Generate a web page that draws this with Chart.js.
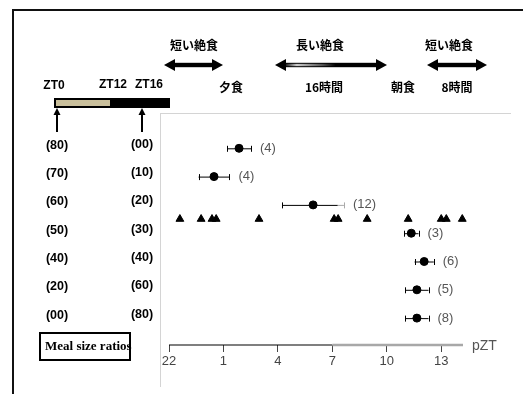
<!DOCTYPE html>
<html>
<head>
<meta charset="utf-8">
<script src="https://cdn.jsdelivr.net/npm/chart.js@4"></script>
<style>
  body { margin: 0; background: #fff; }
  #wrap { width: 523px; height: 394px; }
</style>
</head>
<body>
<div id="wrap"><canvas id="chart-1" width="523" height="394"></canvas></div>
<script>
const $ = (element) => document.querySelector(element)

// data (hours, 22 = ZT22, 25 = next day 1 ...)
const rowLabelsA = ['(80)', '(70)', '(60)', '(50)', '(40)', '(20)', '(00)']
const rowLabelsB = ['(00)', '(10)', '(20)', '(30)', '(40)', '(60)', '(80)']
const mealMeans = [25.86, 24.48, 29.94, 35.35, 36.06, 35.66, 35.66]
const mealErrors = [0.66, 0.85, 1.7, 0.4, 0.53, 0.64, 0.64]
const mealCounts = ['(4)', '(4)', '(12)', '(3)', '(6)', '(5)', '(8)']
const fastTimes = [22.6, 23.77, 24.37, 24.6, 26.96, 31.1, 31.32, 32.92, 35.18, 37.0, 37.28, 38.16]
const fastRow = 2.5
const tickValues = [22, 25, 28, 31, 34, 37]
const tickLabels = ['22', '1', '4', '7', '10', '13']

const sans = 'Arial, "Liberation Sans", sans-serif'
const jp = '"Noto Sans CJK JP", sans-serif'

const drawDoubleArrow = (ctx, x1, x2, y, shaft) => {
  const head = 11, half = 6
  ctx.fillStyle = '#000'
  ctx.fillRect(x1 + head - 1, y - 2.2, x2 - x1 - 2 * head + 2, 4.4)
  if (shaft) {
    const g = ctx.createLinearGradient(x1 + head, 0, x2 - head, 0)
    g.addColorStop(0, '#222')
    g.addColorStop(0.12, '#ccc')
    g.addColorStop(0.4, '#555')
    g.addColorStop(0.55, '#000')
    ctx.fillStyle = g
    ctx.fillRect(x1 + head, y - 1.2, x2 - x1 - 2 * head, 2.4)
  }
  ctx.fillStyle = '#000'
  ctx.beginPath()
  ctx.moveTo(x1, y); ctx.lineTo(x1 + head, y - half); ctx.lineTo(x1 + head, y + half); ctx.closePath()
  ctx.fill()
  ctx.beginPath()
  ctx.moveTo(x2, y); ctx.lineTo(x2 - head, y - half); ctx.lineTo(x2 - head, y + half); ctx.closePath()
  ctx.fill()
}

const drawUpArrow = (ctx, x, yTop, yBottom) => {
  ctx.fillStyle = '#000'
  ctx.fillRect(x - 1, yTop + 5, 2, yBottom - yTop - 5)
  ctx.beginPath()
  ctx.moveTo(x, yTop); ctx.lineTo(x - 3.5, yTop + 7); ctx.lineTo(x + 3.5, yTop + 7); ctx.closePath()
  ctx.fill()
}

const cap = (ctx, px, py) => {
  ctx.moveTo(Math.round(px) + 0.5, py - 2.5)
  ctx.lineTo(Math.round(px) + 0.5, py + 3.5)
}

const decorations = {
  id: 'decorations',
  beforeDraw(chart) {
    const ctx = chart.ctx
    ctx.save()
    ctx.fillStyle = '#fff'
    ctx.fillRect(0, 0, chart.width, chart.height)
    ctx.restore()
  },
  beforeDatasetsDraw(chart) {
    const ctx = chart.ctx
    const x = chart.scales.x, y = chart.scales.y
    ctx.save()
    ctx.lineWidth = 1
    mealMeans.forEach((m, i) => {
      const py = y.getPixelForValue(i)
      const lo = x.getPixelForValue(m - mealErrors[i])
      const hi = x.getPixelForValue(m + mealErrors[i])
      // the long bar fades to grey past the 7 tick, like the axis
      let split = x.getPixelForValue(31.3)
      if (split <= lo || split >= hi) split = hi
      ctx.strokeStyle = '#000'
      ctx.beginPath()
      ctx.moveTo(lo, py + 0.5); ctx.lineTo(split, py + 0.5)
      cap(ctx, lo, py)
      if (split === hi) cap(ctx, hi, py)
      ctx.stroke()
      if (split < hi) {
        ctx.strokeStyle = '#aaa'
        ctx.beginPath()
        ctx.moveTo(split, py + 0.5); ctx.lineTo(hi, py + 0.5)
        cap(ctx, hi, py)
        ctx.stroke()
      }
      ctx.fillStyle = '#555'
      ctx.font = '13px ' + sans
      ctx.textAlign = 'left'
      ctx.textBaseline = 'middle'
      ctx.fillText(mealCounts[i], hi + 9, py)

      ctx.fillStyle = '#000'
      ctx.font = 'bold 12.5px ' + sans
      ctx.textAlign = 'center'
      ctx.fillText(rowLabelsA[i], 57, py - 3)
      ctx.fillText(rowLabelsB[i], 142, py - 4)
    })
    ctx.restore()
  },
  afterDraw(chart) {
    const ctx = chart.ctx
    const x = chart.scales.x
    const area = chart.chartArea
    ctx.save()

    // frame
    ctx.fillStyle = '#111'
    ctx.fillRect(12, 9, 511, 2)
    ctx.fillRect(12, 9, 2, 385)
    ctx.fillStyle = '#d4d4d4'
    ctx.fillRect(160, 113, 351, 1)
    ctx.fillRect(160, 113, 1, 274)

    // x axis line
    const ay = area.bottom
    ctx.strokeStyle = '#000'
    ctx.lineWidth = 1.2
    ctx.beginPath()
    ctx.moveTo(x.getPixelForValue(22), ay); ctx.lineTo(x.getPixelForValue(31), ay)
    ctx.stroke()
    ctx.strokeStyle = '#a8a8a8'
    ctx.lineWidth = 2.5
    ctx.beginPath()
    ctx.moveTo(x.getPixelForValue(31), ay); ctx.lineTo(x.right, ay)
    ctx.stroke()
    ctx.fillStyle = '#555'
    ctx.font = '14px ' + sans
    ctx.textAlign = 'left'
    ctx.textBaseline = 'middle'
    ctx.fillText('pZT', x.right + 9, ay + 1)

    // ZT light bar
    ctx.fillStyle = '#000'
    ctx.fillRect(54, 98, 116, 10)
    ctx.fillStyle = '#c9bf9b'
    ctx.fillRect(56, 100, 54, 6)
    drawUpArrow(ctx, 57, 108, 132)
    drawUpArrow(ctx, 142, 108, 132)
    ctx.font = 'bold 12px ' + sans
    ctx.textAlign = 'center'
    ctx.fillText('ZT0', 54, 86)
    ctx.fillText('ZT12', 113, 85)
    ctx.fillText('ZT16', 149, 85)

    // fasting annotations
    ctx.font = 'bold 12px ' + jp
    ctx.fillText('短い絶食', 194, 45)
    ctx.fillText('長い絶食', 320, 45)
    ctx.fillText('短い絶食', 449, 45)
    ctx.fillText('夕食', 231, 87)
    ctx.fillText('16時間', 324, 87)
    ctx.fillText('朝食', 403, 87)
    ctx.fillText('8時間', 457, 87)
    drawDoubleArrow(ctx, 164, 223, 65, false)
    drawDoubleArrow(ctx, 275, 387, 65, true)
    drawDoubleArrow(ctx, 427, 487, 65, false)

    // meal size box
    ctx.strokeStyle = '#000'
    ctx.lineWidth = 2
    ctx.strokeRect(40, 333, 90, 27)
    ctx.font = 'bold 13px "Liberation Serif", "Times New Roman", serif'
    ctx.textAlign = 'left'
    ctx.fillText('Meal size ratios', 45, 347)
    ctx.restore()
  }
}

new Chart($('#chart-1'), {
  type: 'scatter',
  data: {
    datasets: [{
      label: 'meal',
      data: mealMeans.map((v, i) => ({ x: v, y: i })),
      pointStyle: 'circle',
      pointRadius: 4,
      backgroundColor: '#000',
      borderColor: '#000'
    }, {
      label: 'fast',
      data: fastTimes.map(v => ({ x: v, y: fastRow })),
      pointStyle: 'triangle',
      pointRadius: 4.5,
      backgroundColor: '#000',
      borderColor: '#000'
    }]
  },
  options: {
    responsive: false,
    animation: false,
    clip: false,
    layout: { padding: { left: 169, right: 60, top: 120, bottom: 0 } },
    plugins: { legend: { display: false }, tooltip: { enabled: false } },
    scales: {
      x: {
        type: 'linear',
        min: 22,
        max: 38.2,
        border: { display: false },
        grid: { drawOnChartArea: false, tickLength: 7, color: '#444', lineWidth: 1 },
        afterBuildTicks: (scale) => { scale.ticks = tickValues.map(v => ({ value: v })) },
        afterFit: (scale) => { scale.height = 49 },
        ticks: {
          color: '#444',
          padding: 2,
          font: { size: 13, family: sans },
          callback: (value) => tickLabels[tickValues.indexOf(value)]
        }
      },
      y: {
        type: 'linear',
        display: false,
        reverse: true,
        min: -1,
        max: 6.95
      }
    }
  },
  plugins: [decorations]
});
</script>
</body>
</html>
